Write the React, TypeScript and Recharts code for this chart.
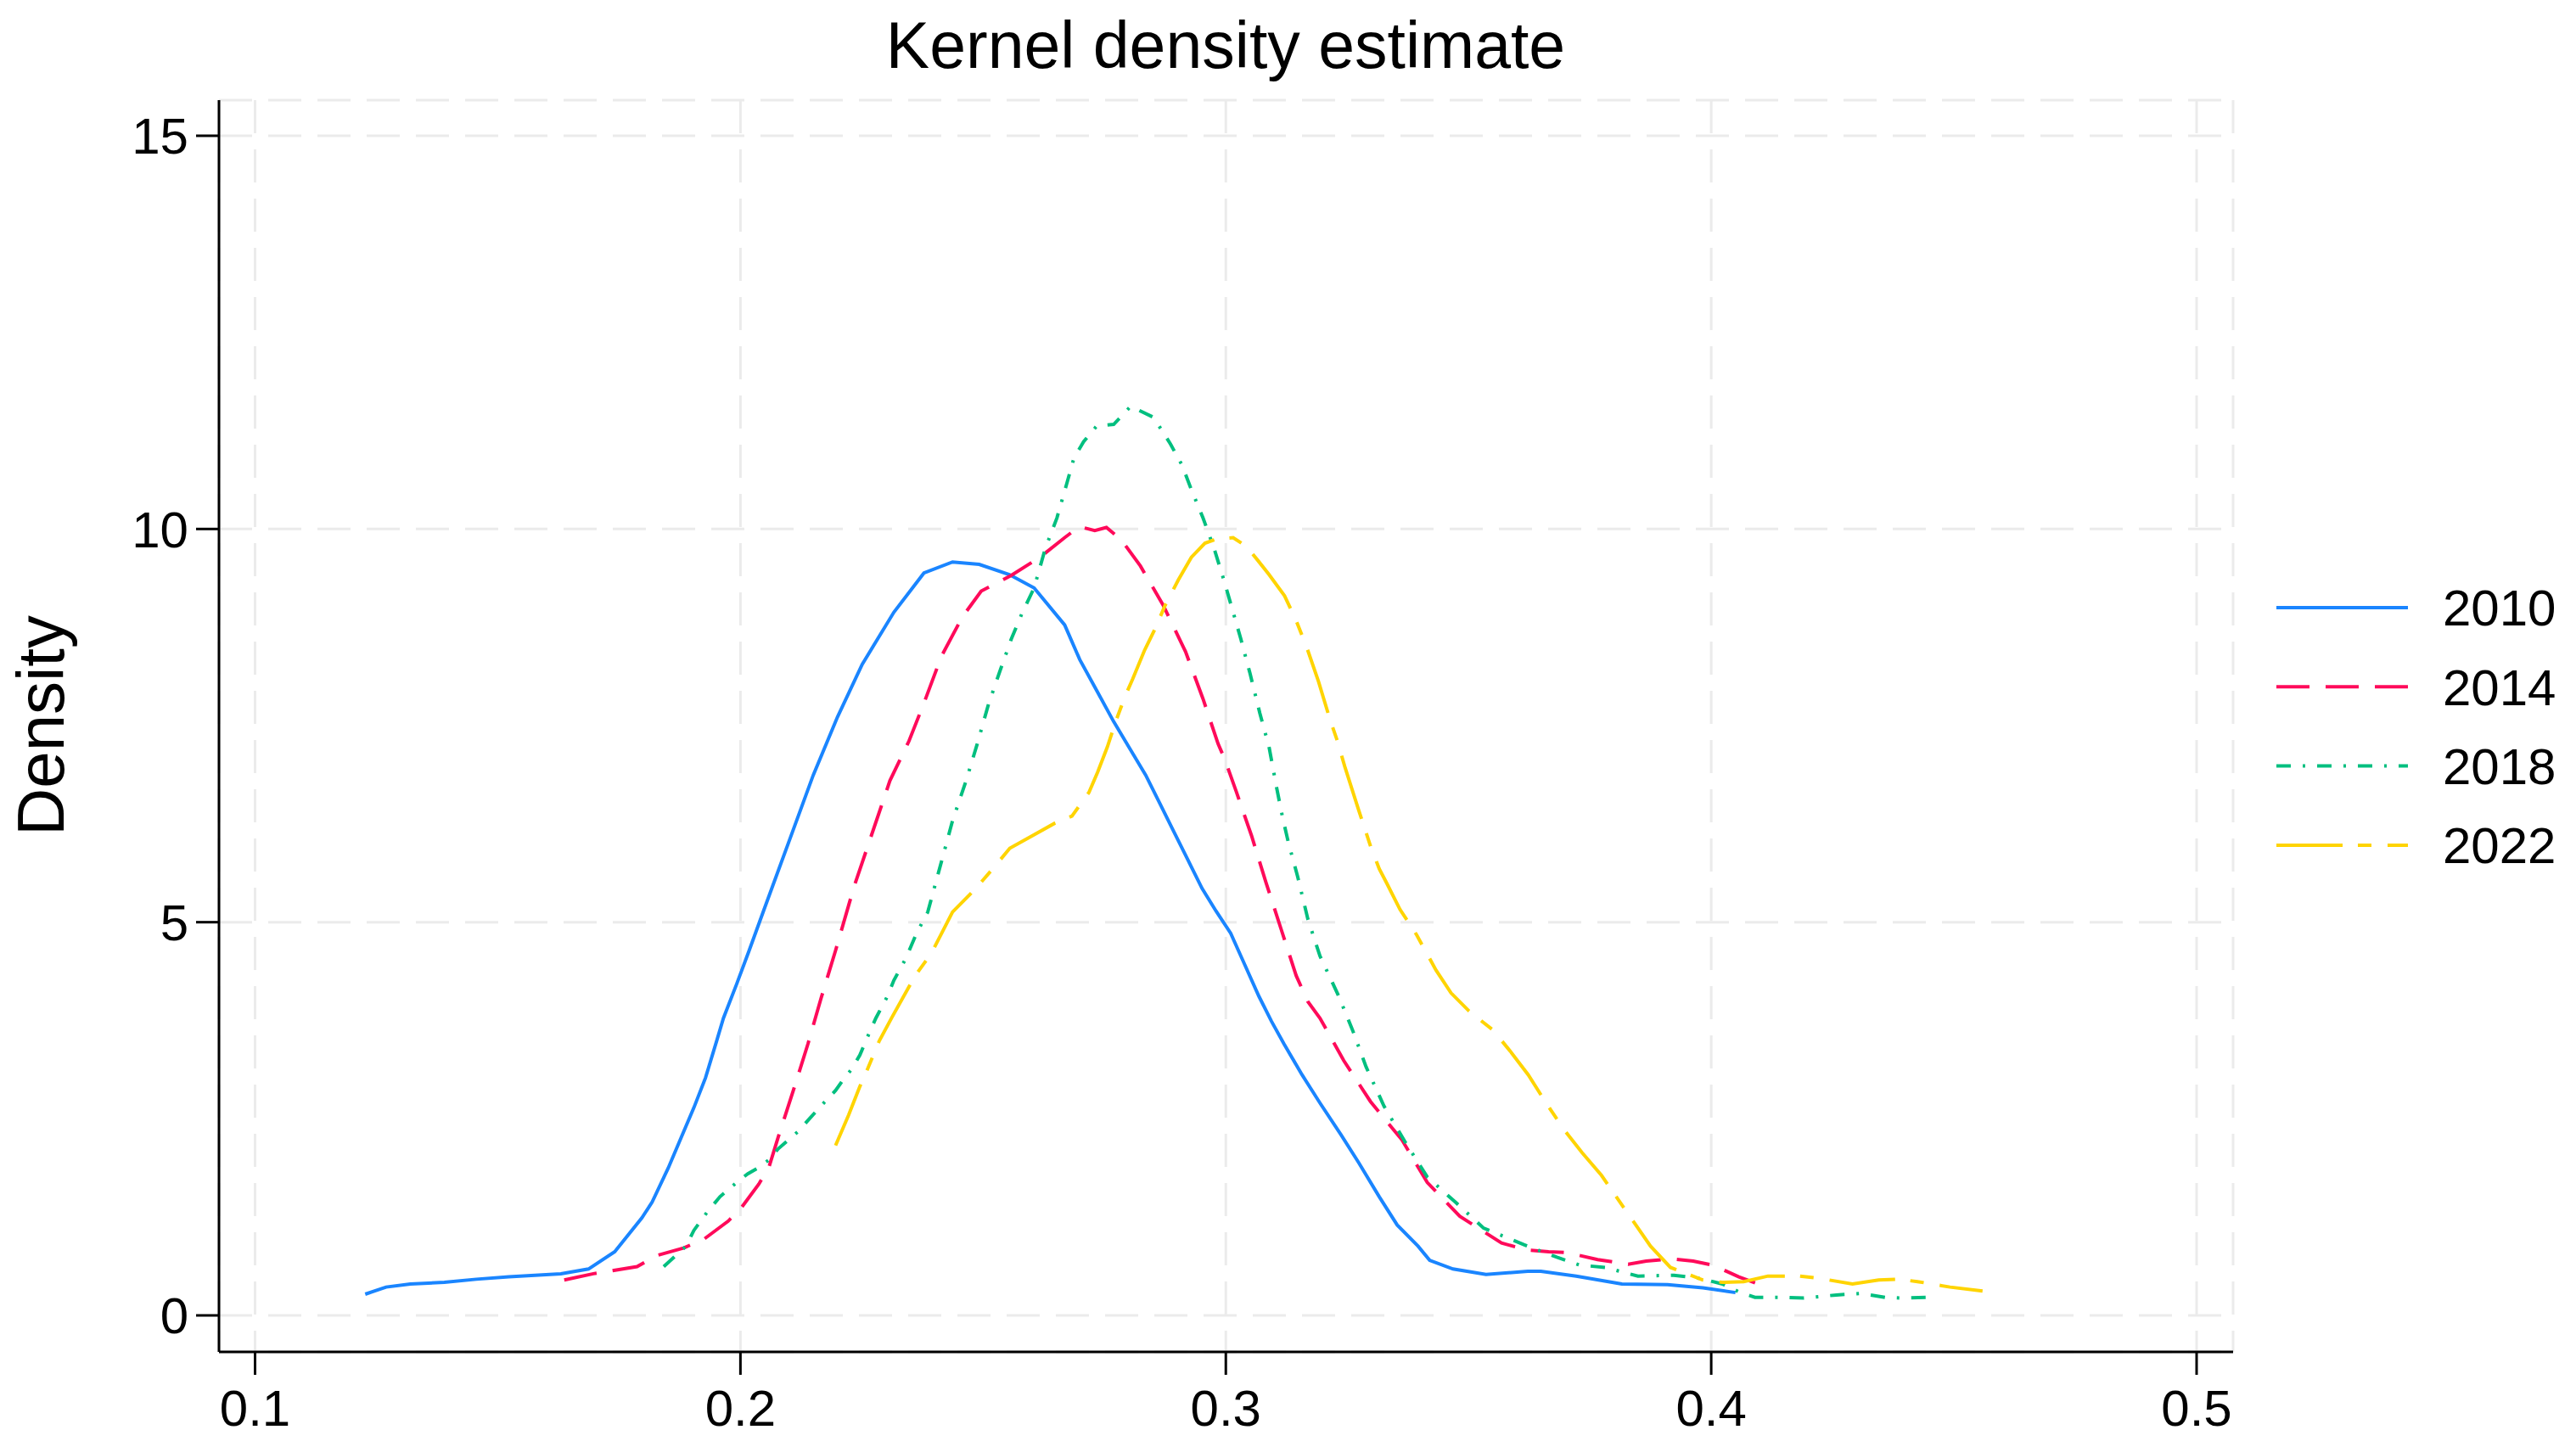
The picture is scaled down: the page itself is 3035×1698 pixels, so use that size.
import React from 'react';
import { LineChart, Line, XAxis, YAxis, CartesianGrid } from 'recharts';

// kernel density curves
const x2010 = [0.1227, 0.127, 0.132, 0.139, 0.1456, 0.1523, 0.163, 0.1687, 0.1741, 0.1797, 0.1818, 0.1851, 0.1871, 0.1904, 0.1928, 0.1951, 0.1965, 0.1992, 0.2018, 0.2048, 0.2099, 0.215, 0.22, 0.2251, 0.2316, 0.2378, 0.2437, 0.2492, 0.2554, 0.2605, 0.2668, 0.2699, 0.273, 0.2769, 0.28, 0.2835, 0.2864, 0.2893, 0.2922, 0.2951, 0.298, 0.301, 0.3039, 0.3068, 0.3094, 0.312, 0.3157, 0.3194, 0.3237, 0.3274, 0.3316, 0.3353, 0.3396, 0.342, 0.3468, 0.3536, 0.3622, 0.3649, 0.3722, 0.3816, 0.391, 0.3983, 0.405];
const y2010 = [0.27, 0.36, 0.4, 0.42, 0.46, 0.49, 0.53, 0.59, 0.81, 1.24, 1.44, 1.87, 2.16, 2.64, 3.02, 3.49, 3.78, 4.21, 4.64, 5.15, 6.01, 6.87, 7.61, 8.28, 8.94, 9.44, 9.58, 9.55, 9.42, 9.25, 8.78, 8.34, 7.99, 7.55, 7.23, 6.87, 6.51, 6.15, 5.79, 5.43, 5.14, 4.86, 4.46, 4.06, 3.74, 3.45, 3.06, 2.7, 2.3, 1.94, 1.51, 1.15, 0.88, 0.7, 0.59, 0.52, 0.56, 0.56, 0.5, 0.4, 0.39, 0.35, 0.29];

const x2014 = [0.1637, 0.1697, 0.1787, 0.1827, 0.1884, 0.1925, 0.1975, 0.2002, 0.2038, 0.2059, 0.2078, 0.2089, 0.2109, 0.2139, 0.2166, 0.2196, 0.2234, 0.2308, 0.2347, 0.2379, 0.2414, 0.2457, 0.2496, 0.253, 0.2558, 0.2617, 0.2668, 0.2698, 0.273, 0.2754, 0.2785, 0.2824, 0.2871, 0.2917, 0.2953, 0.2984, 0.2998, 0.3021, 0.3053, 0.3083, 0.3114, 0.3145, 0.3169, 0.3194, 0.3243, 0.3298, 0.3363, 0.3415, 0.3482, 0.3568, 0.3622, 0.3665, 0.3702, 0.3766, 0.3829, 0.3866, 0.3916, 0.3963, 0.4003, 0.4057, 0.4114];
const y2014 = [0.45, 0.53, 0.62, 0.76, 0.86, 0.97, 1.2, 1.37, 1.67, 1.89, 2.27, 2.48, 2.86, 3.45, 4.03, 4.64, 5.45, 6.8, 7.3, 7.8, 8.38, 8.88, 9.21, 9.32, 9.41, 9.64, 9.89, 10.03, 9.98, 10.02, 9.86, 9.53, 9.03, 8.44, 7.84, 7.27, 7.07, 6.67, 6.1, 5.5, 4.91, 4.32, 3.99, 3.78, 3.24, 2.72, 2.23, 1.69, 1.26, 0.92, 0.83, 0.81, 0.8, 0.71, 0.65, 0.69, 0.72, 0.69, 0.64, 0.49, 0.36];

const x2018 = [0.1842, 0.1888, 0.1904, 0.1931, 0.1958, 0.1992, 0.2015, 0.2035, 0.2059, 0.2078, 0.2119, 0.2142, 0.2176, 0.2196, 0.2212, 0.2229, 0.2246, 0.2266, 0.2279, 0.2303, 0.2316, 0.234, 0.2363, 0.2386, 0.2437, 0.2465, 0.2488, 0.2511, 0.2535, 0.2558, 0.2581, 0.2605, 0.2628, 0.2652, 0.2672, 0.2687, 0.2707, 0.2734, 0.2769, 0.2804, 0.2851, 0.2886, 0.291, 0.2929, 0.2953, 0.2976, 0.2996, 0.3011, 0.3031, 0.305, 0.307, 0.3089, 0.3105, 0.3117, 0.3129, 0.3148, 0.3169, 0.3194, 0.3231, 0.3261, 0.3289, 0.3326, 0.3369, 0.3415, 0.3473, 0.3531, 0.3614, 0.3682, 0.3729, 0.3782, 0.3849, 0.3923, 0.3977, 0.4023, 0.4057, 0.409, 0.4144, 0.4191, 0.4258, 0.4308, 0.4358, 0.4391, 0.4445];
const y2018 = [0.62, 0.88, 1.08, 1.31, 1.51, 1.69, 1.8, 1.87, 1.98, 2.12, 2.34, 2.5, 2.73, 2.86, 3.0, 3.13, 3.31, 3.6, 3.78, 4.06, 4.26, 4.53, 4.86, 5.13, 6.29, 6.8, 7.27, 7.77, 8.2, 8.6, 8.94, 9.25, 9.75, 10.14, 10.57, 10.9, 11.11, 11.31, 11.33, 11.56, 11.42, 11.08, 10.81, 10.5, 10.14, 9.75, 9.35, 9.03, 8.6, 8.16, 7.66, 7.23, 6.7, 6.33, 6.01, 5.58, 5.04, 4.57, 4.08, 3.63, 3.16, 2.66, 2.21, 1.76, 1.44, 1.11, 0.9, 0.74, 0.64, 0.61, 0.5, 0.51, 0.47, 0.4, 0.3, 0.23, 0.23, 0.22, 0.26, 0.28, 0.23, 0.22, 0.23];

const x2022 = [0.2196, 0.2223, 0.2246, 0.2259, 0.2286, 0.2313, 0.236, 0.2393, 0.2437, 0.2485, 0.252, 0.2555, 0.2596, 0.2648, 0.2683, 0.2718, 0.2736, 0.2756, 0.2773, 0.2793, 0.2808, 0.2832, 0.2855, 0.2875, 0.2902, 0.2929, 0.2957, 0.298, 0.3015, 0.3042, 0.3066, 0.3089, 0.3121, 0.3144, 0.3167, 0.3191, 0.3214, 0.323, 0.3245, 0.3274, 0.3298, 0.3316, 0.3332, 0.3359, 0.3393, 0.3433, 0.3464, 0.3501, 0.355, 0.3586, 0.3623, 0.366, 0.3697, 0.3734, 0.3774, 0.382, 0.3875, 0.3916, 0.3983, 0.4023, 0.4067, 0.4117, 0.4181, 0.4224, 0.4291, 0.4345, 0.4385, 0.4425, 0.4492, 0.4559];
const y2022 = [2.16, 2.55, 2.91, 3.09, 3.49, 3.8, 4.32, 4.6, 5.13, 5.43, 5.68, 5.94, 6.08, 6.26, 6.35, 6.65, 6.91, 7.23, 7.55, 7.88, 8.09, 8.45, 8.74, 9.03, 9.35, 9.64, 9.82, 9.87, 9.89, 9.78, 9.6, 9.42, 9.15, 8.85, 8.49, 8.06, 7.59, 7.3, 6.98, 6.42, 5.97, 5.68, 5.49, 5.16, 4.84, 4.39, 4.1, 3.87, 3.63, 3.36, 3.06, 2.7, 2.36, 2.07, 1.78, 1.37, 0.88, 0.61, 0.45, 0.42, 0.43, 0.5, 0.5, 0.47, 0.4, 0.45, 0.46, 0.43, 0.36, 0.31];

const years = ['2010', '2014', '2018', '2022'];
const xTicks = [0.1, 0.2, 0.3, 0.4, 0.5];
const yTicks = [0, 5, 10, 15];

const colors = ['#1a85ff', '#ff0a5a', '#00bf7f', '#ffd400'];
const dashes = [undefined, '39 19', '17 14 3 14', '78 18 16 19'];

const font = '"Liberation Sans", Arial, Helvetica, sans-serif';

const toPoints = (xs: number[], ys: number[]) => xs.map((x, i) => ({ x, y: ys[i] }));
const series = [
  toPoints(x2010, y2010),
  toPoints(x2014, y2014),
  toPoints(x2018, y2018),
  toPoints(x2022, y2022),
];

const W = 3035;
const H = 1698;

export default function App() {
  const tickStyle = { fill: '#000', fontSize: 60, fontFamily: font };
  return (
    <div style={{ position: 'absolute', left: 0, top: 0, width: W, height: H, background: '#fff' }}>
      <LineChart width={W} height={H} margin={{ top: 118, right: 404, bottom: 0, left: 0 }}>
        <CartesianGrid stroke="#ebebeb" strokeWidth={3} strokeDasharray="39 19" />
        <XAxis
          type="number"
          dataKey="x"
          domain={[0.09257, 0.50752]}
          ticks={xTicks}
          allowDataOverflow
          height={105}
          tickSize={27}
          tickMargin={17}
          tick={tickStyle}
          axisLine={{ stroke: '#000', strokeWidth: 3 }}
          tickLine={{ stroke: '#000', strokeWidth: 3 }}
        />
        <YAxis
          type="number"
          domain={[-0.464, 15.453]}
          ticks={yTicks}
          allowDataOverflow
          width={258}
          tickSize={27}
          tickMargin={9}
          tick={tickStyle}
          axisLine={{ stroke: '#000', strokeWidth: 3 }}
          tickLine={{ stroke: '#000', strokeWidth: 3 }}
        />
        {series.map((d, i) => (
          <Line
            key={years[i]}
            data={d}
            dataKey="y"
            name={years[i]}
            type="linear"
            stroke={colors[i]}
            strokeWidth={4}
            strokeDasharray={dashes[i]}
            dot={false}
            activeDot={false}
            isAnimationActive={false}
          />
        ))}
      </LineChart>
      <svg width={W} height={H} style={{ position: 'absolute', left: 0, top: 0, pointerEvents: 'none' }}>
        <text x={1444} y={80} textAnchor="middle" fontSize={77} fontFamily={font} fill="#000">
          Kernel density estimate
        </text>
        <text
          x={75}
          y={855}
          textAnchor="middle"
          fontSize={78}
          fontFamily={font}
          fill="#000"
          transform="rotate(-90 75 855)"
        >
          Density
        </text>
        {years.map((yr, i) => {
          const cy = 716 + i * 93.3;
          return (
            <g key={yr}>
              <line x1={2682} x2={2837} y1={cy} y2={cy} stroke={colors[i]} strokeWidth={4} strokeDasharray={dashes[i]} />
              <text x={2878} y={cy} dy="0.355em" fontSize={60} fontFamily={font} fill="#000">
                {yr}
              </text>
            </g>
          );
        })}
      </svg>
    </div>
  );
}
